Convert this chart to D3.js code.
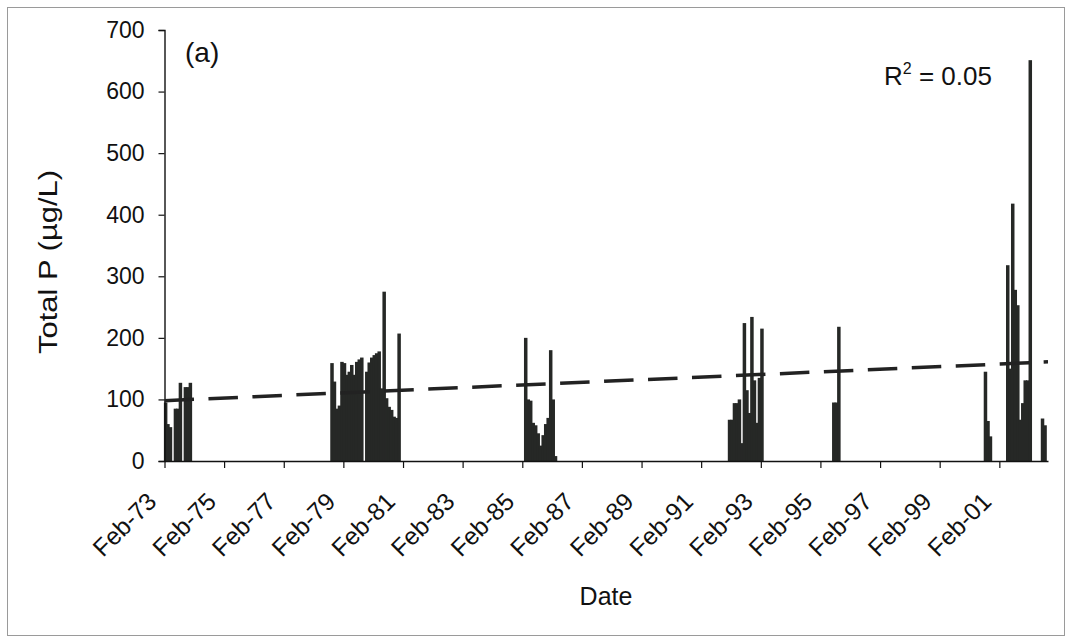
<!DOCTYPE html>
<html>
<head>
<meta charset="utf-8">
<script src="https://cdn.jsdelivr.net/npm/d3@7/dist/d3.min.js"></script>
<style>
  html, body { margin: 0; padding: 0; background: #fff; }
  svg { display: block; }
  text { font-family: "Liberation Sans", Arial, sans-serif; fill: #111; }
</style>
</head>
<body>
<svg id="chart" width="1072" height="643"></svg>
<script>
// Monthly total phosphorus samples (µg/L), month of sampling
const sampleMonths = [
  "1973-02","1973-03","1973-04","1973-06","1973-07","1973-08","1973-10","1973-11","1973-12",
  "1978-09","1978-10","1978-11","1978-12","1979-01","1979-02","1979-03","1979-04","1979-05",
  "1979-06","1979-07","1979-08","1979-09","1979-11","1979-12","1980-01","1980-02",
  "1980-03","1980-04","1980-05","1980-06","1980-07","1980-08","1980-09","1980-10","1980-11","1980-12",
  "1985-03","1985-04","1985-05","1985-06","1985-07","1985-08","1985-09","1985-10","1985-11",
  "1985-12","1986-01","1986-02","1986-03",
  "1992-01","1992-02","1992-03","1992-04","1992-05","1992-06","1992-07","1992-08","1992-09",
  "1992-10","1992-11","1992-12","1993-01","1993-02",
  "1995-07","1995-08","1995-09",
  "2000-08","2000-09","2000-10",
  "2001-05","2001-06","2001-07","2001-08","2001-09","2001-10","2001-11","2001-12","2002-01",
  "2002-02",
  "2002-07","2002-08"
];
const totalP = [
  95, 60, 55, 85, 85, 127, 120, 120, 127,
  159, 129, 85, 90, 161, 159, 140, 145, 156,
  140, 161, 165, 168, 145, 160, 168, 172,
  175, 178, 118, 275, 102, 88, 83, 72, 70, 207,
  200, 100, 98, 62, 58, 45, 25, 42, 60,
  70, 180, 100, 8,
  67, 67, 94, 94, 100, 29, 224, 115, 78,
  234, 131, 62, 135, 215,
  95, 95, 218,
  145, 65, 40,
  318, 150, 418, 278, 253, 67, 94, 131, 131,
  651,
  69, 58
];

// Linear trend (read at the ends of the fitted line) and its fit statistic
const trendDates = ["1973-02-01", "2002-09-20"];
const trendValues = [98, 161];
const rSquared = "0.05";

// Axis ticks
const yTicks = [0, 100, 200, 300, 400, 500, 600, 700];
const xTickYears = [1973, 1975, 1977, 1979, 1981, 1983, 1985, 1987, 1989, 1991, 1993, 1995, 1997, 1999, 2001];

const svg = d3.select("#chart");
const W = 1072, H = 643;
const plot = { left: 164.5, right: 1048, top: 30, bottom: 461 };

// outer frame
svg.append("rect")
  .attr("x", 7.5).attr("y", 7.5)
  .attr("width", W - 15).attr("height", H - 15)
  .attr("fill", "none").attr("stroke", "#9a9a9a").attr("stroke-width", 1);

const parseMonth = d3.timeParse("%Y-%m");
const parseDay = d3.timeParse("%Y-%m-%d");

const x = d3.scaleTime()
  .domain([parseDay(trendDates[0]), parseDay(trendDates[1])])
  .range([plot.left, plot.right]);

const y = d3.scaleLinear().domain([0, 700]).range([plot.bottom, plot.top]);

const data = sampleMonths.map((m, i) => {
  const d = parseMonth(m);
  return { date: d3.timeDay.offset(d, 14), value: totalP[i] };
});

// columns
const barW = 3.5;
svg.append("g")
  .selectAll("rect")
  .data(data)
  .join("rect")
  .attr("x", d => x(d.date) - barW / 2)
  .attr("width", barW)
  .attr("y", d => y(d.value))
  .attr("height", d => y(0) - y(d.value))
  .attr("fill", "#262826");

// y axis
const yAxis = d3.axisLeft(y).tickValues(yTicks).tickSize(6).tickPadding(14).tickFormat(d3.format("d"));
const gy = svg.append("g").attr("transform", `translate(${plot.left},0)`).call(yAxis);
gy.select(".domain").attr("stroke", "#111").attr("stroke-width", 1.4);
gy.selectAll(".tick line").attr("stroke", "#111").attr("stroke-width", 1.2);
gy.selectAll(".tick text").attr("font-size", 23).attr("fill", "#111")
  .attr("font-family", "'Liberation Sans', Arial, sans-serif");

// x axis
const xTickDates = xTickYears.map(yr => new Date(yr, 1, 1));
const xAxis = d3.axisBottom(x).tickValues(xTickDates).tickSize(7).tickSizeOuter(0)
  .tickFormat(d3.timeFormat("%b-%y"));
const gx = svg.append("g").attr("transform", `translate(0,${plot.bottom})`).call(xAxis);
gx.select(".domain").attr("stroke", "#111").attr("stroke-width", 1.4);
gx.selectAll(".tick line").attr("stroke", "#111").attr("stroke-width", 1.2);
gx.selectAll(".tick text")
  .attr("font-size", 24.5).attr("fill", "#111")
  .attr("font-family", "'Liberation Sans', Arial, sans-serif")
  .attr("text-anchor", "end")
  .attr("dy", null).attr("y", null)
  .attr("transform", "translate(-7,42) rotate(-45)");

// trend line
const trend = trendDates.map((d, i) => ({ date: parseDay(d), value: trendValues[i] }));
svg.append("path")
  .datum(trend)
  .attr("d", d3.line().x(d => x(d.date)).y(d => y(d.value)))
  .attr("fill", "none")
  .attr("stroke", "#222")
  .attr("stroke-width", 3.5)
  .attr("stroke-dasharray", "29.5 14.5");

// axis titles
svg.append("text")
  .attr("x", 606).attr("y", 605)
  .attr("text-anchor", "middle").attr("font-size", 25)
  .text("Date");

svg.append("text")
  .attr("transform", "translate(57,262) rotate(-90)")
  .attr("text-anchor", "middle").attr("font-size", 26)
  .attr("textLength", 184).attr("lengthAdjust", "spacingAndGlyphs")
  .text("Total P (µg/L)");

// panel label
svg.append("text")
  .attr("x", 185).attr("y", 62)
  .attr("font-family", "'Liberation Serif', 'Times New Roman', serif")
  .attr("font-size", 28)
  .text("(a)");

// fit statistic
const r2 = svg.append("text").attr("x", 884).attr("y", 85).attr("font-size", 26);
r2.append("tspan").text("R");
r2.append("tspan").attr("dy", -11).attr("font-size", 16).text("2");
r2.append("tspan").attr("dy", 11).text(" = " + rSquared);
</script>
</body>
</html>
